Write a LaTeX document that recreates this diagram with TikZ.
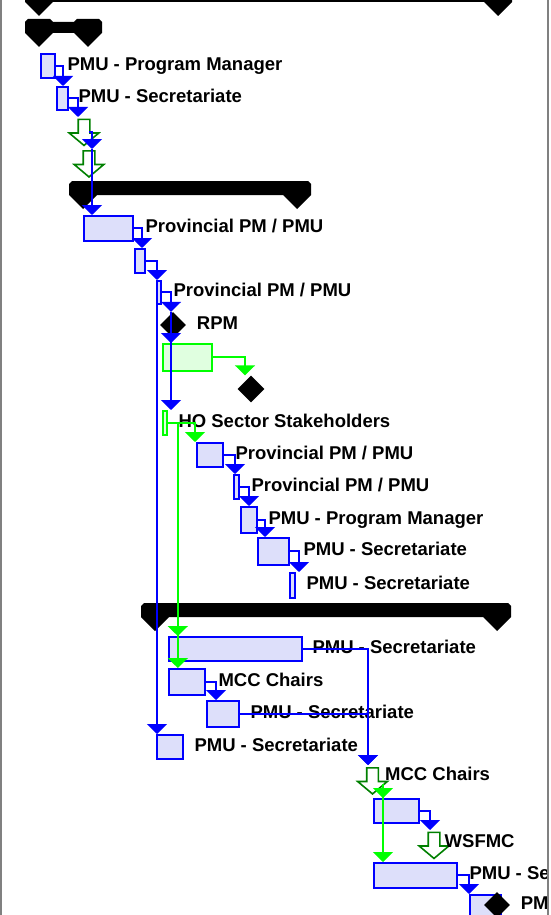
\documentclass[tikz,border=0pt]{standalone}
\usepackage{fontspec}
\setsansfont{Liberation Sans}
\usetikzlibrary{shapes.geometric,shapes.arrows,arrows.meta,positioning,calc}
\definecolor{taskfill}{RGB}{221,223,250}
\definecolor{taskblue}{RGB}{0,0,255}
\definecolor{linkgreen}{RGB}{0,255,0}
\definecolor{lightgreen}{RGB}{224,255,224}
\definecolor{darkgreen}{RGB}{0,128,0}
\definecolor{framegray}{RGB}{128,128,128}
\tikzset{
    task/.style={
        rectangle,
        draw=taskblue,
        fill=taskfill,
        line width=1.8pt,
        inner sep=0pt,
        anchor=north west
    },
    greentask/.style={task, draw=linkgreen, fill=lightgreen},
    milestone/.style={
        diamond,
        fill=black,
        inner sep=0pt,
        minimum width=26pt,
        minimum height=26pt
    },
    hollowarrow/.style={
        single arrow,
        shape border rotate=270,
        draw=darkgreen,
        fill=white,
        line width=1.6pt,
        inner sep=5pt,
        single arrow head extend=9pt,
        single arrow tip angle=100,
        minimum height=26pt
    },
    link/.style={
        -{Triangle[width=20pt,length=10pt]},
        color=taskblue,
        line width=2pt
    },
    greenlink/.style={link, color=linkgreen},
    tasklabel/.style={
        inner sep=0pt,
        text height=13pt,
        text depth=0pt,
        xshift=-1.5pt,
        yshift=2pt,
        font=\sffamily\bfseries\fontsize{18.5}{20}\selectfont
    },
    summary/.style={fill=black}
}

\begin{document}
\begin{tikzpicture}[x=1pt, y=-1pt]
\useasboundingbox (0,0) rectangle (550,915);
\begin{scope}
\clip (0,0) rectangle (546.5,915);

% summary bars
\fill[summary] (25,-9) -- (28,-12) -- (509,-12) -- (512,-9) -- (512,2) -- (498,16) -- (484,2) -- (53,2) -- (39,16) -- (25,2) -- cycle;
\fill[summary] (25,22) -- (28,19) -- (50,19) -- (53,22) -- (74,22) -- (77,19) -- (99,19) -- (102,22) -- (102,33) -- (88,47) -- (74,33) -- (53,33) -- (39,47) -- (25,33) -- cycle;
\fill[summary] (69,184) -- (72,181) -- (308,181) -- (311,184) -- (311,195) -- (297,209) -- (283,195) -- (97,195) -- (83,209) -- (69,195) -- cycle;
\fill[summary] (141,606) -- (144,603) -- (508,603) -- (511,606) -- (511,617) -- (497,631) -- (483,617) -- (169,617) -- (155,631) -- (141,617) -- cycle;

% first block
\node[task, minimum width=14pt, minimum height=24pt] (t1) at (40,53) {};
\node[tasklabel, right=13pt of t1] (l1) {PMU - Program Manager};
\node[task, minimum width=11pt, minimum height=23pt] (t2) at (56,86) {};
\node[tasklabel, right=11pt of t2] (l2) {PMU - Secretariate};
\node[hollowarrow] (m1) at (84,130) {};
\node[hollowarrow] (m2) at (89,161.5) {};

% provincial block
\node[task, minimum width=49pt, minimum height=25pt] (t3) at (83,215) {};
\node[tasklabel, right=13pt of t3] (l3) {Provincial PM / PMU};
\node[task, minimum width=10pt, minimum height=24pt] (t4) at (134,248) {};
\node[task, minimum width=4pt, minimum height=23pt] (t5) at (156,280) {};
\node[tasklabel, right=13pt of t5] (l5) {Provincial PM / PMU};
\node[milestone] (rpm) at (173,325) {};
\node[tasklabel, right=12pt of rpm] (lrpm) {RPM};
\node[greentask, minimum width=49pt, minimum height=27pt] (g1) at (162,343) {};
\node[milestone, minimum width=27pt, minimum height=27pt] (d2) at (251,389) {};
\node[greentask, minimum width=4pt, minimum height=24pt] (ho) at (162,410) {};
\node[tasklabel, right=12pt of ho] (lho) {HO Sector Stakeholders};
\node[task, minimum width=26pt, minimum height=24pt] (t6) at (196,442) {};
\node[tasklabel, right=13pt of t6] (l6) {Provincial PM / PMU};
\node[task, minimum width=5pt, minimum height=24pt] (t7) at (233,474) {};
\node[tasklabel, right=13pt of t7] (l7) {Provincial PM / PMU};
\node[task, minimum width=16pt, minimum height=26pt] (t8) at (240,506) {};
\node[tasklabel, right=12pt of t8] (l8) {PMU - Program Manager};
\node[task, minimum width=31pt, minimum height=27pt] (t9) at (257,537) {};
\node[tasklabel, right=15pt of t9] (l9) {PMU - Secretariate};
\node[task, minimum width=5pt, minimum height=25pt] (t10) at (289,572) {};
\node[tasklabel, right=12pt of t10] (l10) {PMU - Secretariate};

% MCC block
\node[task, minimum width=133pt, minimum height=24pt] (t11) at (168,636) {};
\node[tasklabel, right=11pt of t11] (l11) {PMU - Secretariate};
\node[task, minimum width=36pt, minimum height=26pt] (t12) at (168,668) {};
\node[tasklabel, right=14pt of t12] (l12) {MCC Chairs};
\node[task, minimum width=32pt, minimum height=26pt] (t13) at (206,700) {};
\node[tasklabel, right=12pt of t13] (l13) {PMU - Secretariate};
\node[task, minimum width=26pt, minimum height=24pt] (t14) at (156,734) {};
\node[tasklabel, right=12pt of t14] (l14) {PMU - Secretariate};
\node[hollowarrow] (m3) at (372.5,778.5) {};
\node[tasklabel, anchor=west] (lm3) at ([shift={(14pt,3pt)}]m3.center) {MCC Chairs};
\node[task, minimum width=45pt, minimum height=24pt] (t15) at (373,798) {};
\node[hollowarrow] (m4) at (434,843) {};
\node[tasklabel, anchor=west] (lm4) at ([xshift=12pt]m4.center) {WSFMC};
\node[task, minimum width=83pt, minimum height=25pt] (t16) at (373,862) {};
\node[tasklabel, right=13pt of t16] (l16) {PMU - Se};
\node[task, minimum width=31pt, minimum height=30pt] (t17) at (469,894) {};
\node[milestone] (d3) at (497,905) {};
\node[tasklabel, right=12pt of d3] (l17) {PM};

% links
\coordinate (m2top) at ([shift={(3pt,12.5pt)}]m2.center);
\coordinate (t5drop) at ([xshift=1pt]t5.south west);
\coordinate (rpmdrop) at ([xshift=-2pt]rpm.north);
\coordinate (hodrop) at ([xshift=10pt]ho.east);
\coordinate (m3top) at ([shift={(-4.5pt,13.5pt)}]m3.center);
\coordinate (m3drop) at ([shift={(10.5pt,-5pt)}]m3.center);
\coordinate (m4top) at ([shift={(-4pt,13pt)}]m4.center);

\draw[link] (t1.east) -| ([xshift=7pt]t2.north west);
\draw[link] (t2.east) -| ([shift={(-6pt,13pt)}]m1.center);
\draw[link] ([shift={(5pt,-2pt)}]m1.center) -| (m2top);
\draw[link] (m2top) -- (m2top |- t3.north);
\draw[link] (t3.east) -| ([xshift=8pt]t4.north west);
\draw[link] (t4.east) -| ([xshift=1pt]t5.north west);
\draw[link] (t5.east) -| (rpmdrop);
\draw[link] (t5drop) -- (t5drop |- t14.north);
\draw[link] (rpmdrop) -- (rpmdrop |- g1.north);
\draw[link] (rpmdrop) -- (rpmdrop |- ho.north);
\draw[greenlink] (g1.east) -| ([xshift=-6pt]d2.north);
\draw[greenlink] (ho.east) -| ([xshift=-1pt]t6.north west);
\draw[greenlink] (hodrop) -- (hodrop |- t11.north);
\draw[greenlink] (hodrop) -- (hodrop |- t12.north);
\draw[link] (t6.east) -| ([xshift=2pt]t7.north west);
\draw[link] (t7.east) -| ([xshift=9pt]t8.north west);
\draw[link] (t8.east) -| ([xshift=8pt]t9.north west);
\draw[link] (t9.east) -| ([xshift=10pt]t10.north west);
\draw[link] (t11.east) -| (m3top);
\draw[link] (t12.east) -| ([xshift=10pt]t13.north west);
\draw[link] (t13.east) -| (m3top);
\draw[greenlink] (m3drop) -- (m3drop |- t15.north);
\draw[greenlink] (m3drop) -- (m3drop |- t16.north);
\draw[link] (t15.east) -| (m4top);
\draw[link] (t16.east) -| ([xshift=0pt]t17.north west);
\end{scope}

% frame
\draw[framegray, line width=2pt] (1,0) -- (1,915);
\draw[framegray, line width=2pt] (547.5,0) -- (547.5,915);
\end{tikzpicture}
\end{document}
